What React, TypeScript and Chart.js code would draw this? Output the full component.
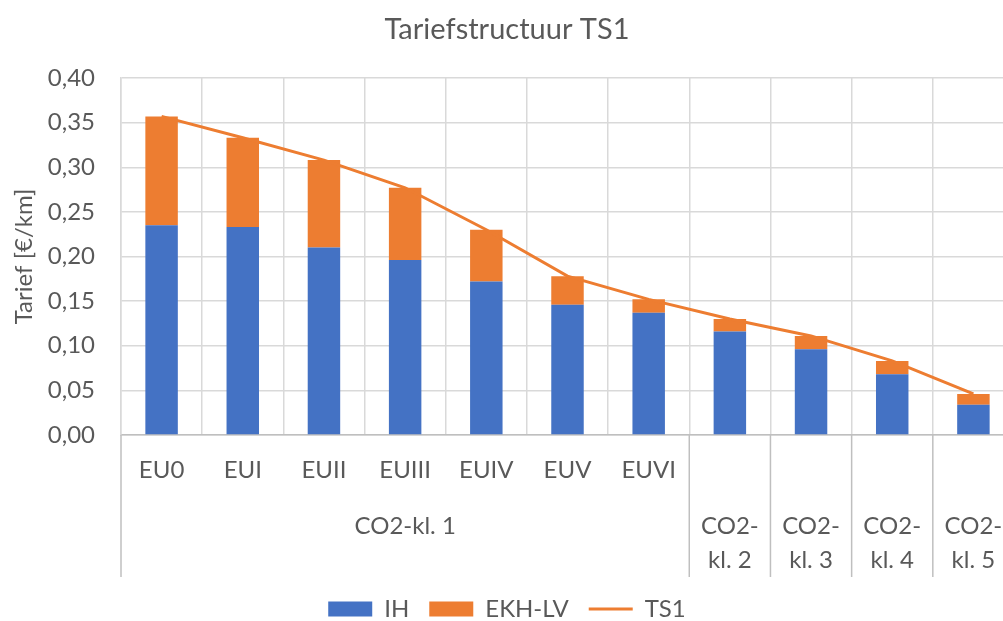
import React, { useEffect, useRef } from 'react';
import { Chart, registerables } from 'chart.js';

Chart.register(...registerables);

// ---- data ----
const categories = ['EU0', 'EUI', 'EUII', 'EUIII', 'EUIV', 'EUV', 'EUVI', '', '', '', ''];
const groupLabels = ['CO2-kl. 1', 'CO2-kl. 2', 'CO2-kl. 3', 'CO2-kl. 4', 'CO2-kl. 5'];
const groupSizes = [7, 1, 1, 1, 1];
const ihValues = [0.235, 0.233, 0.210, 0.196, 0.172, 0.146, 0.137, 0.116, 0.096, 0.068, 0.034];
const ekhValues = [0.122, 0.100, 0.098, 0.081, 0.058, 0.032, 0.015, 0.014, 0.015, 0.015, 0.012];
const ts1Values = [0.357, 0.333, 0.308, 0.277, 0.230, 0.178, 0.152, 0.130, 0.111, 0.083, 0.046];
const yMin = 0;
const yMax = 0.4;
const yStep = 0.05;

const FONT = 'Lato, "Open Sans", "DejaVu Sans", sans-serif';
const TEXT = '#595959';
const GRID = '#d9d9d9';
const AXIS = '#bfbfbf';
const BLUE = '#4472C4';
const ORANGE = '#ED7D31';

const groupAxisPlugin = {
  id: 'groupAxis',
  afterDraw(chart: any) {
    const x = chart.scales.x;
    const ctx = chart.ctx as CanvasRenderingContext2D;
    const step = x.getPixelForValue(1) - x.getPixelForValue(0);
    const top = chart.chartArea.bottom;
    const bottom = top + 142;
    ctx.save();
    ctx.strokeStyle = AXIS;
    ctx.lineWidth = 1.5;
    ctx.font = `24px ${FONT}`;
    ctx.fillStyle = TEXT;
    ctx.textAlign = 'center';
    ctx.textBaseline = 'middle';
    let start = 0;
    groupSizes.forEach((size, gi) => {
      const left = x.getPixelForValue(start) - step / 2;
      const right = left + size * step;
      const drawLine = (px: number) => {
        ctx.beginPath();
        ctx.moveTo(px, top);
        ctx.lineTo(px, bottom);
        ctx.stroke();
      };
      drawLine(left);
      if (gi === groupSizes.length - 1) drawLine(right);
      const label = groupLabels[gi];
      let lines = [label];
      if (ctx.measureText(label).width > right - left - 8) {
        const cut = label.indexOf('-') + 1;
        lines = [label.slice(0, cut), label.slice(cut).trim()];
      }
      const cx = (left + right) / 2;
      lines.forEach((ln, li) => {
        ctx.fillText(ln, cx, top + 91 + li * 34.5);
      });
      start += size;
    });
    ctx.restore();
  },
};

export default function App() {
  const canvasRef = useRef<HTMLCanvasElement | null>(null);

  useEffect(() => {
    if (!canvasRef.current) return;
    const chart = new Chart(canvasRef.current, {
      type: 'bar',
      data: {
        labels: categories,
        datasets: [
          {
            type: 'bar',
            label: 'IH',
            data: ihValues,
            backgroundColor: BLUE,
            borderWidth: 0,
            barPercentage: 0.4,
            categoryPercentage: 1,
            pointStyle: 'rect',
            order: 1,
          } as any,
          {
            type: 'bar',
            label: 'EKH-LV',
            data: ekhValues,
            backgroundColor: ORANGE,
            borderWidth: 0,
            barPercentage: 0.4,
            categoryPercentage: 1,
            pointStyle: 'rect',
            order: 1,
          } as any,
          {
            type: 'line',
            label: 'TS1',
            data: ts1Values,
            borderColor: ORANGE,
            backgroundColor: ORANGE,
            borderWidth: 3,
            pointRadius: 0,
            pointHoverRadius: 0,
            pointBorderWidth: 3,
            pointBorderColor: ORANGE,
            pointStyle: 'line',
            tension: 0,
            stack: 'line',
            order: 0,
          } as any,
        ],
      },
      options: {
        animation: false,
        responsive: false,
        devicePixelRatio: 1,
        layout: { padding: { left: 0, right: 2, top: 0, bottom: 0 } },
        plugins: {
          tooltip: { enabled: false },
          title: {
            display: true,
            text: 'Tariefstructuur TS1',
            color: TEXT,
            font: { family: FONT, size: 29, weight: 'normal' },
            padding: { top: 12.6, bottom: 30.6 },
          },
          legend: {
            display: true,
            position: 'bottom',
            labels: {
              usePointStyle: true,
              pointStyleWidth: 44,
              boxHeight: 15,
              padding: 20,
              color: TEXT,
              font: { family: FONT, size: 24, lineHeight: 1 },
              sort: (a: any, b: any) => a.datasetIndex - b.datasetIndex,
            },
          },
        },
        scales: {
          x: {
            stacked: true,
            offset: true,
            grid: { display: true, offset: true, color: GRID, lineWidth: 1.5, drawTicks: false },
            border: { display: true, color: AXIS, width: 1.5 },
            ticks: {
              color: TEXT,
              font: { family: FONT, size: 24 },
              padding: 21,
              maxRotation: 0,
              autoSkip: false,
            },
            afterFit: (scale: any) => {
              scale.height = 142;
            },
          },
          y: {
            stacked: true,
            min: yMin,
            max: yMax,
            grid: { color: GRID, lineWidth: 1.5, drawTicks: false },
            border: { display: true, color: GRID, width: 1.5 },
            ticks: {
              stepSize: yStep,
              color: TEXT,
              font: { family: FONT, size: 24 },
              padding: 26,
              callback: (v: any) => Number(v).toFixed(2).replace('.', ','),
            },
            title: {
              display: true,
              text: 'Tarief [€/km]',
              color: TEXT,
              font: { family: FONT, size: 24 },
              padding: { top: 10, bottom: 0 },
            },
            afterFit: (scale: any) => {
              scale.width = 121;
            },
          },
        },
      } as any,
      plugins: [groupAxisPlugin],
    });
    return () => chart.destroy();
  }, []);

  return (
    <div
      style={{
        position: 'fixed',
        left: 0,
        top: 0,
        width: 1003,
        height: 621,
        overflow: 'hidden',
        background: '#ffffff',
      }}
    >
      <canvas
        ref={canvasRef}
        width={1016}
        height={631}
        style={{ display: 'block', width: 1016, height: 631 }}
      />
    </div>
  );
}
